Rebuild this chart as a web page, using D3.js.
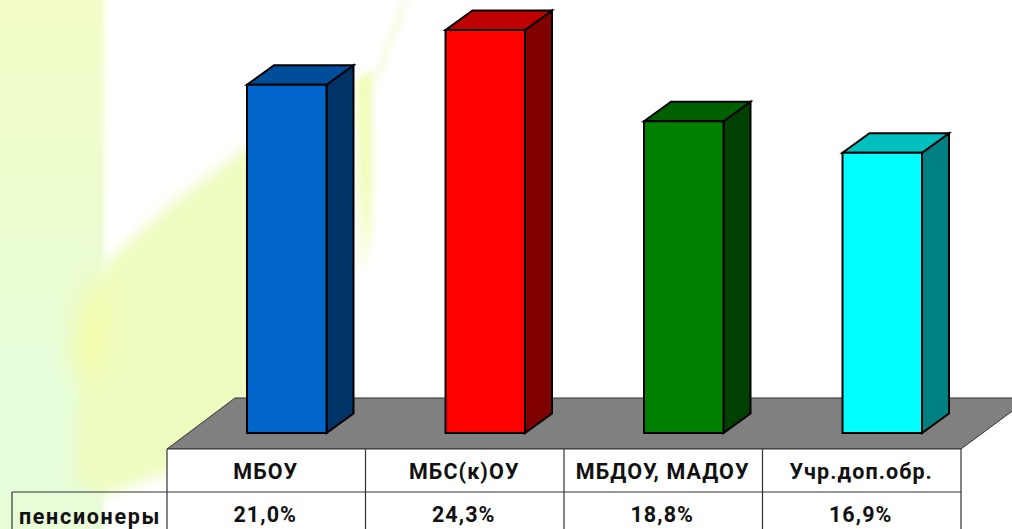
<!DOCTYPE html>
<html><head><meta charset="utf-8">
<script src="https://cdnjs.cloudflare.com/ajax/libs/d3/7.8.5/d3.min.js"></script>
<style>html,body{margin:0;padding:0;background:#fff;overflow:hidden}svg{display:block}text{font-family:Roboto,sans-serif;font-weight:700;fill:#111}</style>
</head><body><svg id="c" width="1012" height="529"></svg>
<script>
const categories = ["МБОУ","МБС(к)ОУ","МБДОУ, МАДОУ","Учр.доп.обр."];
const values = [21.0,24.3,18.8,16.9];
const valueLabels = ["21,0%","24,3%","18,8%","16,9%"];
const seriesName = "пенсионеры";
const frontColors = ["#0066cc","#ff0000","#008000","#00ffff"];
const sideColors = ["#003366","#800000","#004000","#008080"];
const topColors = ["#004d99","#bf0000","#006000","#00bfbf"];

const svg = d3.select("#c");
const defs = svg.append("defs");
const blur = (id,s)=>defs.append("filter").attr("id",id).attr("x","-50%").attr("y","-50%").attr("width","200%").attr("height","200%").append("feGaussianBlur").attr("stdDeviation",s);
blur("b0",3); blur("b1",14); blur("b2",7); blur("b3",3.5);
const lg = defs.append("linearGradient").attr("id","strip").attr("x1",0).attr("y1",0).attr("x2",0).attr("y2",1);
[[0,"#f2fcc6"],[0.35,"#ecfccc"],[0.7,"#e6fddb"],[1,"#e8fcd6"]].forEach(s=>lg.append("stop").attr("offset",s[0]).attr("stop-color",s[1]));
const sl = defs.append("linearGradient").attr("id","sliver").attr("x1",0).attr("y1",0).attr("x2",0).attr("y2",1);
[[0,"#f1fcb4"],[0.55,"#f3fcbe"],[1,"#fcfef0"]].forEach(s=>sl.append("stop").attr("offset",s[0]).attr("stop-color",s[1]));
const g0 = svg.append("g");
const area = (pts,fill,f,op)=>g0.append("path").attr("d",d3.line()(pts)+"Z").attr("fill",fill).attr("filter",`url(#${f})`).attr("opacity",op);
area([[-20,-20],[104,-20],[104,260],[104,560],[-20,560]],"url(#strip)","b0",1);
area([[80,340],[106,262],[170,205],[250,145],[300,120],[300,405],[235,405],[175,470],[105,495],[75,480]],"#eefcc0","b2",1);
area([[357,80],[372,70],[373,240],[359,280]],"url(#sliver)","b3",1);
area([[372,78],[402,0],[410,0],[378,82]],"#f3fadc","b3",0.8);
area([[84,285],[106,285],[100,370],[72,375]],"#f8fb9e","b1",0.8);

const x = d3.scaleBand().domain(categories).range([167,961]);
const y = d3.scaleLinear().domain([0,24.3]).range([433,30]);
const dx = 27, dy = -19.5;
const barW = 79.5, shift = 20.5;

// floor
svg.append("path").attr("d",d3.line()([[167,449],[961,449],[1030,398],[235,398]])+"Z")
  .attr("fill","#808080").attr("stroke","#333").attr("stroke-width",1);

const line = d3.line();
const bars = svg.selectAll("g.bar").data(categories).join("g").attr("class","bar");
bars.each(function(c,i){
  const g = d3.select(this);
  const cx = x(c)+x.bandwidth()/2 + shift;
  const l = cx-barW/2, r = cx+barW/2, t = y(values[i]), b = y(0);
  const st = {stroke:"#000","stroke-width":2,"stroke-linejoin":"miter"};
  const add=(pts,fill)=>{const p=g.append("path").attr("d",line(pts)+"Z").attr("fill",fill);Object.entries(st).forEach(([k,v])=>p.attr(k,v));};
  add([[r,t],[r+dx,t+dy],[r+dx,b+dy],[r,b]],sideColors[i]);
  add([[l,t],[l+dx,t+dy],[r+dx,t+dy],[r,t]],topColors[i]);
  add([[l,t],[r,t],[r,b],[l,b]],frontColors[i]);
});

// table
const tb = svg.append("g");
tb.append("rect").attr("x",167).attr("y",449).attr("width",794).attr("height",43).attr("fill","#fff");
tb.append("rect").attr("x",167).attr("y",492).attr("width",794).attr("height",40).attr("fill","#fff");
const ln=(a,b,c,d)=>tb.append("line").attr("x1",a).attr("y1",b).attr("x2",c).attr("y2",d).attr("stroke","#333").attr("stroke-width",1.2);
ln(167,449,961,449); ln(12,492,961,492);
ln(12,492,12,529);
categories.forEach(c=>ln(x(c),449,x(c),529));
ln(961,449,961,529);
const fs = 21.5, ls = "1.1px";
tb.selectAll("text.cat").data(categories).join("text").attr("class","cat")
  .attr("x",c=>x(c)+x.bandwidth()/2-0.5).attr("y",479).attr("text-anchor","middle").attr("font-size",fs).style("letter-spacing",ls).text(c=>c);
tb.selectAll("text.val").data(valueLabels).join("text").attr("class","val")
  .attr("x",(d,i)=>x(categories[i])+x.bandwidth()/2-1).attr("y",522).attr("text-anchor","middle").attr("font-size",fs).style("letter-spacing",ls).text(d=>d);
tb.append("text").attr("x",90).attr("y",524).attr("text-anchor","middle").attr("font-size",fs).style("letter-spacing","1.7px").text(seriesName);
</script></body></html>
